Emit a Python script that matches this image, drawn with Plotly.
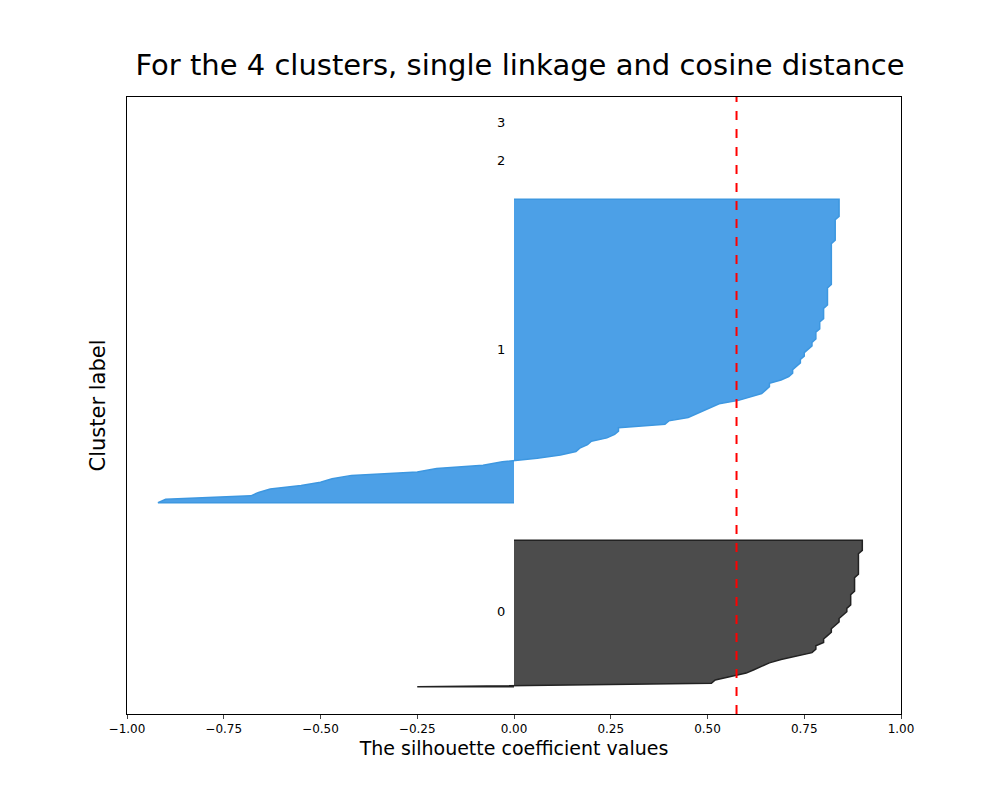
import plotly.graph_objects as go

# sorted silhouette values per cluster (bottom to top)
cluster_0 = [-0.25, 0.51, 0.52, 0.56, 0.60, 0.62, 0.64, 0.66, 0.69, 0.73, 0.77, 0.78, 0.78, 0.80, 0.80,
             0.81, 0.82, 0.82, 0.83, 0.84, 0.84, 0.85, 0.86, 0.86, 0.87, 0.87, 0.87, 0.87, 0.88, 0.88,
             0.88, 0.88, 0.88, 0.89, 0.89, 0.89, 0.89, 0.89, 0.89, 0.89, 0.90, 0.90, 0.90, 0.90]
cluster_1 = [-0.92, -0.90, -0.68, -0.66, -0.63, -0.55, -0.50, -0.47, -0.42, -0.25, -0.20, -0.08, -0.03,
             0.06, 0.12, 0.16, 0.17, 0.19, 0.20, 0.24, 0.26, 0.27, 0.27, 0.39, 0.40, 0.45, 0.47, 0.49,
             0.51, 0.53, 0.58, 0.61, 0.64, 0.65, 0.66, 0.66, 0.69, 0.71, 0.72, 0.72, 0.73, 0.74, 0.74,
             0.75, 0.75, 0.76, 0.77, 0.77, 0.78, 0.78, 0.78, 0.79, 0.79, 0.79, 0.80, 0.80, 0.80, 0.80,
             0.81, 0.81, 0.81, 0.81, 0.81, 0.81, 0.82, 0.82, 0.82, 0.82, 0.82, 0.82, 0.82, 0.82, 0.82,
             0.82, 0.82, 0.82, 0.82, 0.83, 0.83, 0.83, 0.83, 0.83, 0.83, 0.83, 0.84, 0.84, 0.84, 0.84,
             0.84, 0.84]
cluster_2 = [0.0]
cluster_3 = [0.0]
clusters = [cluster_0, cluster_1, cluster_2, cluster_3]
fill_colors = ["rgba(0,0,0,0.7)", "rgba(0,119,221,0.7)", "rgba(0,170,0,0.7)", "rgba(200,200,0,0.7)"]
line_colors = ["#222222", "#3d97e0", "#00aa00", "#c8c800"]
silhouette_avg = 0.575

fig = go.Figure()
y_lower = 10
for i, vals in enumerate(clusters):
    n = len(vals)
    ys = list(range(y_lower, y_lower + n))
    fig.add_trace(go.Scatter(
        x=[0] + vals + [0], y=[ys[0]] + ys + [ys[-1]],
        fill="toself", fillcolor=fill_colors[i], mode="lines",
        line=dict(color=line_colors[i], width=1.5), showlegend=False))
    fig.add_annotation(x=-0.05, y=y_lower + 0.5 * n, text=str(i), showarrow=False,
                       xanchor="left", yanchor="middle", font=dict(size=13, color="black"))
    y_lower += n + 10

fig.add_vline(x=silhouette_avg, line=dict(color="red", dash="dash", width=2))

fig.update_layout(
    width=1000, height=800, plot_bgcolor="white", paper_bgcolor="white",
    font=dict(family="DejaVu Sans", color="black"),
    margin=dict(l=119, r=107, t=89, b=94),
    title=dict(text="For the 4 clusters, single linkage and cosine distance",
               x=0.512, xanchor="center", y=0.929, yanchor="middle", font=dict(size=29)),
    xaxis=dict(range=[-1.0, 1.0], tickvals=[-1, -0.75, -0.5, -0.25, 0, 0.25, 0.5, 0.75, 1.0],
               tickformat=".2f", ticks="outside", ticklen=4, showgrid=False, zeroline=False,
               showline=True, linecolor="black", mirror=True, tickfont=dict(size=12),
               title=dict(text="The silhouette coefficient values", font=dict(size=19), standoff=6)),
    yaxis=dict(range=[2, 183], showticklabels=False, ticks="", showgrid=False, zeroline=False,
               showline=True, linecolor="black", mirror=True,
               title=dict(text="Cluster label", font=dict(size=21), standoff=14)),
)
fig.write_html("out.html")
